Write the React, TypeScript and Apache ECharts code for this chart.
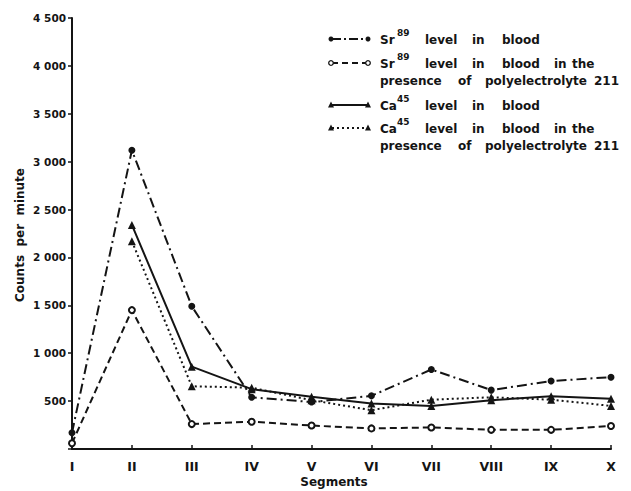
import React, { useEffect, useRef } from "react";
import * as echarts from "echarts";

const segments = ["I", "II", "III", "IV", "V", "VI", "VII", "VIII", "IX", "X"];
const sr89Blood = [170, 3120, 1490, 540, 490, 555, 830, 615, 710, 750];
const sr89Poly = [60, 1450, 260, 285, 245, 215, 225, 200, 200, 240];
const ca45Blood = [null, 2340, 860, 625, 545, 475, 450, 510, 550, 525];
const ca45Poly = [null, 2170, 655, 640, 510, 405, 515, 540, 515, 450];

const INK = "#141414";
const FONT = "bold 12px 'DejaVu Sans', sans-serif";
const SUPFONT = "bold 9px 'DejaVu Sans', sans-serif";

function word(text: string, x: number, y: number, font = FONT) {
  return {
    type: "text",
    x,
    y,
    style: {
      text,
      font,
      fill: INK,
      align: "left",
      verticalAlign: "middle",
      textAlign: "left",
      textVerticalAlign: "middle",
    },
  };
}

function sampleLine(y: number, dash: number[] | null, marker: string) {
  const els: any[] = [];
  els.push({
    type: "line",
    shape: { x1: 332, y1: y, x2: 367, y2: y },
    style: { stroke: INK, lineWidth: 2, lineDash: dash || undefined },
  });
  [331, 368].forEach((cx) => {
    if (marker === "dot") {
      els.push({ type: "circle", shape: { cx, cy: y, r: 2.5 }, style: { fill: INK } });
    } else if (marker === "open") {
      els.push({ type: "circle", shape: { cx, cy: y, r: 2.3 }, style: { fill: "#fff", stroke: INK, lineWidth: 1.3 } });
    } else {
      els.push({
        type: "polygon",
        shape: { points: [[cx, y - 3.5], [cx - 3, y + 2.5], [cx + 3, y + 2.5]] },
        style: { fill: INK },
      });
    }
  });
  return els;
}

export default function App() {
  const ref = useRef<HTMLDivElement>(null);
  useEffect(() => {
    if (!ref.current) return;
    const chart = echarts.init(ref.current, null, { renderer: "svg" });
    const lineBase = { type: "line", smooth: false, connectNulls: false };
    const graphic: any[] = [
      // legend
      ...sampleLine(39, [9, 3, 2, 3], "dot"),
      word("Sr", 380, 40), word("89", 397, 33, SUPFONT), word("level", 425, 40), word("in", 472, 40), word("blood", 502, 40),
      ...sampleLine(63, [6, 4], "open"),
      word("Sr", 380, 64), word("89", 397, 57, SUPFONT), word("level", 425, 64), word("in", 472, 64), word("blood", 502, 64), word("in", 554, 64), word("the", 572, 64),
      word("presence", 380, 81), word("of", 458, 81), word("polyelectrolyte", 485, 81), word("211", 594, 81),
      ...sampleLine(105, null, "tri"),
      word("Ca", 380, 106), word("45", 397, 99, SUPFONT), word("level", 425, 106), word("in", 472, 106), word("blood", 502, 106),
      ...sampleLine(128, [2, 3], "tri"),
      word("Ca", 380, 129), word("45", 397, 122, SUPFONT), word("level", 425, 129), word("in", 472, 129), word("blood", 502, 129), word("in", 554, 129), word("the", 572, 129),
      word("presence", 380, 146), word("of", 458, 146), word("polyelectrolyte", 485, 146), word("211", 594, 146),
      // axis titles
      {
        type: "text",
        x: 20,
        y: 235,
        rotation: Math.PI / 2,
        style: {
          text: "Counts  per  minute",
          font: FONT,
          fill: INK,
          align: "center",
          verticalAlign: "middle",
          textAlign: "center",
          textVerticalAlign: "middle",
        },
      },
      {
        type: "text",
        x: 334,
        y: 482,
        style: {
          text: "Segments",
          font: FONT,
          fill: INK,
          align: "center",
          verticalAlign: "middle",
          textAlign: "center",
          textVerticalAlign: "middle",
        },
      },
    ];
    chart.setOption({
      animation: false,
      backgroundColor: "#ffffff",
      grid: { left: 72, right: 20, top: 18, bottom: 42, containLabel: false },
      xAxis: {
        type: "category",
        data: segments,
        boundaryGap: false,
        axisLine: { lineStyle: { color: INK, width: 2 } },
        axisTick: { inside: true, length: 4, lineStyle: { color: INK, width: 1.5 } },
        axisLabel: { color: INK, fontFamily: "DejaVu Sans", fontWeight: "bold", fontSize: 12.5, margin: 11 },
        splitLine: { show: false },
      },
      yAxis: {
        type: "value",
        min: 0,
        max: 4500,
        interval: 500,
        axisLine: { show: true, lineStyle: { color: INK, width: 2 } },
        axisTick: { show: true, length: 4, lineStyle: { color: INK, width: 1.5 } },
        axisLabel: {
          color: INK,
          fontFamily: "DejaVu Sans",
          fontWeight: "bold",
          fontSize: 10.5,
          margin: 6,
          formatter: (v: number) => {
            if (v === 0) return "";
            if (v >= 1000) return `${Math.floor(v / 1000)} ${String(v % 1000).padStart(3, "0")}`;
            return String(v);
          },
        },
        splitLine: { show: false },
      },
      series: [
        {
          ...lineBase,
          name: "Sr89 level in blood",
          data: sr89Blood,
          symbol: "circle",
          symbolSize: 7,
          itemStyle: { color: INK },
          lineStyle: { color: INK, width: 2, type: [10, 4, 2, 4] },
          z: 4,
        },
        {
          ...lineBase,
          name: "Sr89 level in blood in the presence of polyelectrolyte 211",
          data: sr89Poly,
          symbol: "emptyCircle",
          symbolSize: 6,
          itemStyle: { color: INK, borderColor: INK, borderWidth: 1.5 },
          lineStyle: { color: INK, width: 2, type: [7, 4] },
          z: 3,
        },
        {
          ...lineBase,
          name: "Ca45 level in blood",
          data: ca45Blood,
          symbol: "triangle",
          symbolSize: 8,
          itemStyle: { color: INK },
          lineStyle: { color: INK, width: 2, type: "solid" },
          z: 5,
        },
        {
          ...lineBase,
          name: "Ca45 level in blood in the presence of polyelectrolyte 211",
          data: ca45Poly,
          symbol: "triangle",
          symbolSize: 8,
          itemStyle: { color: INK },
          lineStyle: { color: INK, width: 2, type: [2, 3] },
          z: 5,
        },
      ],
      graphic,
    });
    return () => chart.dispose();
  }, []);
  return <div ref={ref} style={{ width: 631, height: 491, position: "absolute", left: 0, top: 0 }} />;
}
